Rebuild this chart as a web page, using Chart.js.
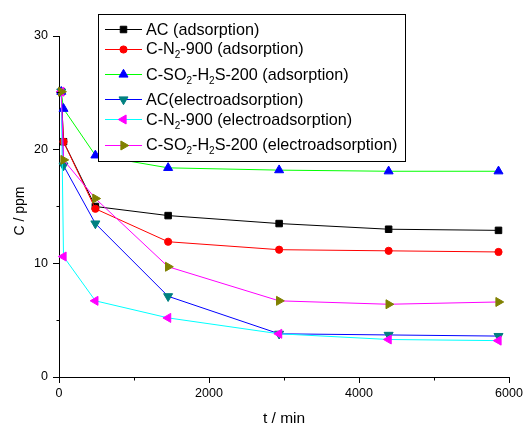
<!DOCTYPE html>
<html>
<head>
<meta charset="utf-8">
<script src="https://cdn.jsdelivr.net/npm/chart.js@4.4.1/dist/chart.umd.min.js"></script>
<style>
  html, body { margin: 0; padding: 0; background: #fff; }
  canvas { display: block; }
</style>
</head>
<body>
<canvas id="c" width="531" height="426"></canvas>
<script>
// Sampling times (min) and measured concentrations (ppm)
const times = [30, 60, 485, 1455, 2935, 4395, 5860];

const acAdsorption       = [25.1, 20.7, 15.0, 14.2, 13.5, 13.0, 12.9];
const cn900Adsorption    = [25.1, 20.7, 14.8, 11.9, 11.2, 11.1, 11.0];
const cso2Adsorption     = [25.1, 23.6, 19.5, 18.4, 18.2, 18.1, 18.1];
const acElectro          = [25.1, 18.6, 13.5, 7.1, 3.8, 3.7, 3.6];
const cn900Electro       = [25.1, 10.6, 6.7, 5.2, 3.8, 3.3, 3.2];
const cso2Electro        = [25.1, 19.1, 15.7, 9.7, 6.7, 6.4, 6.6];

const seriesNames = [
  'AC (adsorption)',
  'C-N₂-900 (adsorption)',
  'C-SO₂-H₂S-200 (adsorption)',
  'AC(electroadsorption)',
  'C-N₂-900 (electroadsorption)',
  'C-SO₂-H₂S-200 (electroadsorption)'
];
const seriesValues = [acAdsorption, cn900Adsorption, cso2Adsorption, acElectro, cn900Electro, cso2Electro];

// Axis ticks
const xMajorTicks = [0, 2000, 4000, 6000];
const xMinorTicks = [1000, 3000, 5000];
const yMajorTicks = [0, 10, 20, 30];
const yMinorTicks = [5, 15, 25];
const xAxisTitle = 't / min';
const yAxisTitle = 'C / ppm';

// Line colour, marker colour, marker shape per series
const seriesStyles = [
  { line: '#000000', mark: '#000000', shape: 'rect',     rot: 0,   r: 4.6 },
  { line: '#ff0000', mark: '#ff0000', shape: 'circle',   rot: 0,   r: 3.6 },
  { line: '#00ff00', mark: '#0000ff', shape: 'triangle', rot: 0,   r: 5.2 },
  { line: '#0000ff', mark: '#008080', shape: 'triangle', rot: 180, r: 5.2 },
  { line: '#00ffff', mark: '#ff00ff', shape: 'triangle', rot: 270, r: 5.2 },
  { line: '#ff00ff', mark: '#808000', shape: 'triangle', rot: 90,  r: 5.2 }
];

const FONT_FAMILY = '"Liberation Sans", Arial, Helvetica, sans-serif';

const datasets = seriesValues.map((vals, i) => {
  const s = seriesStyles[i];
  return {
    label: seriesNames[i],
    data: times.map((t, k) => ({ x: t, y: vals[k] })),
    borderColor: s.line,
    borderWidth: 1,
    backgroundColor: s.mark,
    pointStyle: s.shape,
    pointRotation: s.rot,
    pointRadius: s.r,
    pointHoverRadius: s.r,
    pointBackgroundColor: s.mark,
    pointBorderColor: s.mark,
    pointBorderWidth: 1,
    tension: 0,
    fill: false,
    clip: false,
    order: seriesValues.length - 1 - i   // later series drawn on top
  };
});

function alignPx(p) { return Math.round(p - 0.5) + 0.5; }

// Minor ticks and axis titles
const axisExtras = {
  id: 'axisExtras',
  afterDraw(chart) {
    const { ctx, chartArea } = chart;
    const xs = chart.scales.x, ys = chart.scales.y;
    ctx.save();
    ctx.strokeStyle = '#000';
    ctx.lineWidth = 1;
    const bottom = alignPx(chartArea.bottom);
    const left = alignPx(chartArea.left);
    xMinorTicks.forEach(v => {
      const px = alignPx(xs.getPixelForValue(v));
      ctx.beginPath(); ctx.moveTo(px, bottom); ctx.lineTo(px, bottom + 3); ctx.stroke();
    });
    yMinorTicks.forEach(v => {
      const py = alignPx(ys.getPixelForValue(v));
      ctx.beginPath(); ctx.moveTo(left, py); ctx.lineTo(left - 3, py); ctx.stroke();
    });
    ctx.fillStyle = '#000';
    ctx.textAlign = 'center';
    ctx.textBaseline = 'alphabetic';
    ctx.font = '15.5px ' + FONT_FAMILY;
    ctx.fillText(xAxisTitle, (chartArea.left + chartArea.right) / 2, 423);
    ctx.translate(24, 211);
    ctx.rotate(-Math.PI / 2);
    ctx.font = '14px ' + FONT_FAMILY;
    ctx.fillText(yAxisTitle, 0, 0);
    ctx.restore();
  }
};

// Boxed legend with line + marker samples and subscripted labels
const SUB = '₂';
function richWidth(ctx, text, font, subFont) {
  let w = 0;
  for (const ch of text) {
    ctx.font = ch === SUB ? subFont : font;
    w += ctx.measureText(ch === SUB ? '2' : ch).width;
  }
  return w;
}
function drawRich(ctx, text, x, y, font, subFont) {
  let cx = x;
  for (const ch of text) {
    if (ch === SUB) {
      ctx.font = subFont;
      ctx.fillText('2', cx, y + 4);
      cx += ctx.measureText('2').width;
    } else {
      ctx.font = font;
      ctx.fillText(ch, cx, y);
      cx += ctx.measureText(ch).width;
    }
  }
}

const boxLegend = {
  id: 'boxLegend',
  afterDraw(chart) {
    const ctx = chart.ctx;
    const sets = chart.data.datasets;
    const font = '16.2px ' + FONT_FAMILY;
    const subFont = '10px ' + FONT_FAMILY;
    const left = 98.5, top = 14.5;
    const lineX0 = 105, lineX1 = 142, markX = 123.5, textX = 146;
    ctx.save();
    const rows = [];
    let y = top + 14.5, maxW = 0;
    sets.forEach(ds => {
      maxW = Math.max(maxW, richWidth(ctx, ds.label, font, subFont));
      rows.push(y);
      y += ds.label.includes(SUB) ? 25.3 : 19.8;
    });
    const right = Math.round(textX + maxW + 7.5) + 0.5;
    const bottom = Math.round(rows[rows.length - 1] + 16.5) + 0.5;
    ctx.fillStyle = '#fff';
    ctx.fillRect(left, top, right - left, bottom - top);
    ctx.strokeStyle = '#000';
    ctx.lineWidth = 1;
    ctx.strokeRect(left, top, right - left, bottom - top);

    sets.forEach((ds, i) => {
      const ry = rows[i];
      ctx.strokeStyle = ds.borderColor;
      ctx.lineWidth = 1;
      ctx.beginPath();
      ctx.moveTo(lineX0, Math.round(ry) + 0.5);
      ctx.lineTo(lineX1, Math.round(ry) + 0.5);
      ctx.stroke();
      ctx.fillStyle = ds.pointBackgroundColor;
      ctx.strokeStyle = ds.pointBorderColor;
      ctx.lineWidth = ds.pointBorderWidth;
      Chart.helpers.drawPoint(ctx, {
        pointStyle: ds.pointStyle,
        rotation: ds.pointRotation,
        radius: ds.pointRadius,
        borderWidth: ds.pointBorderWidth
      }, markX, Math.round(ry) + 0.5);
      ctx.fillStyle = '#000';
      ctx.textAlign = 'left';
      ctx.textBaseline = 'alphabetic';
      drawRich(ctx, ds.label, textX, ry + 5.6, font, subFont);
    });
    ctx.restore();
  }
};

new Chart(document.getElementById('c'), {
  type: 'line',
  data: { datasets },
  options: {
    responsive: false,
    animation: false,
    devicePixelRatio: 1,
    layout: { padding: { left: 0, right: 22, top: 36, bottom: 0 } },
    plugins: { legend: { display: false }, tooltip: { enabled: false } },
    scales: {
      x: {
        type: 'linear',
        min: 0, max: 6000,
        afterBuildTicks: s => { s.ticks = xMajorTicks.map(v => ({ value: v })); },
        afterFit: s => { s.height = 49; },
        ticks: {
          color: '#000',
          font: { family: FONT_FAMILY, size: 12.5 },
          padding: 3,
          maxRotation: 0,
          callback: v => String(v)
        },
        grid: { drawOnChartArea: false, drawTicks: true, tickLength: 6, color: '#000', lineWidth: 1 },
        border: { display: true, color: '#000', width: 1 }
      },
      y: {
        type: 'linear',
        min: 0, max: 30,
        afterBuildTicks: s => { s.ticks = yMajorTicks.map(v => ({ value: v })); },
        afterFit: s => { s.width = 59; },
        ticks: {
          color: '#000',
          font: { family: FONT_FAMILY, size: 12.5 },
          padding: 5,
          callback: v => String(v)
        },
        grid: { drawOnChartArea: false, drawTicks: true, tickLength: 6, color: '#000', lineWidth: 1 },
        border: { display: true, color: '#000', width: 1 }
      }
    }
  },
  plugins: [axisExtras, boxLegend]
});
</script>
</body>
</html>
